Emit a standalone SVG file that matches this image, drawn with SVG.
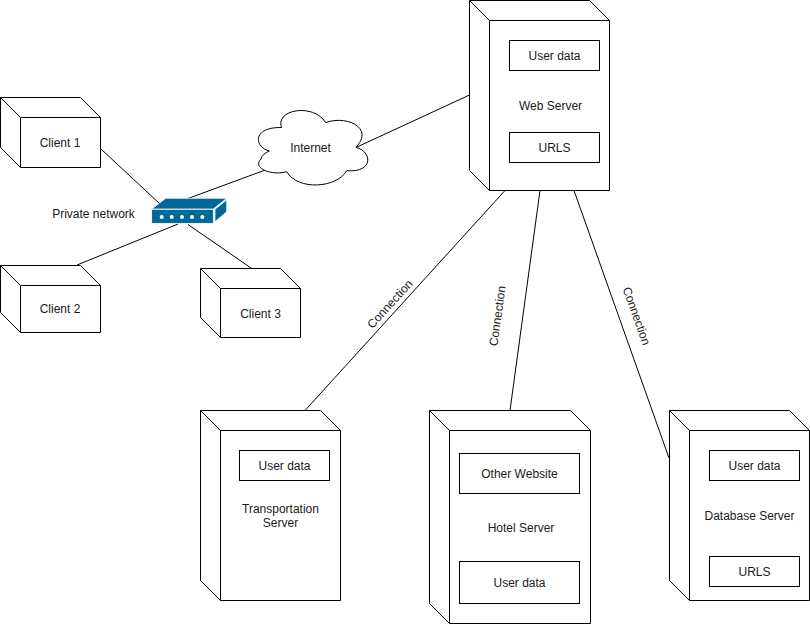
<svg xmlns="http://www.w3.org/2000/svg" width="810" height="625" viewBox="0 0 810 625">
<style>
.s{fill:#fff;stroke:#000;stroke-width:1}
.n{fill:none;stroke:#000;stroke-width:1}
text{font-family:"Liberation Sans",Arial,sans-serif;font-size:12px;fill:#1a1a1a;text-anchor:middle}
</style>
<rect width="810" height="625" fill="#fff"/>
<g id="connectors" class="n">
<path d="M101 149L160 204"/>
<path d="M188 198.500L268 169"/>
<path d="M77 265L178 224"/>
<path d="M188 224.500L251 268"/>
<path d="M357 147L469.500 95"/>
<path d="M505 190.500L305 410.500"/>
<path d="M540 190.500L510 410.500"/>
<path d="M574 190.500L669 458"/>
</g>
<g id="connector-labels">
<text transform="translate(390 304) rotate(-47.700)" y="4">Connection</text>
<text transform="translate(497.500 316) rotate(-82)" y="4">Connection</text>
<text transform="translate(636.500 316) rotate(70.500)" y="4">Connection</text>
</g>
<g id="client1"><path class="s" d="M.5 97.500H80.500L100.500 117.500V167.500H20.500L.5 147.500Z"/><path class="n" d="M.5 97.500L20.500 117.500H100.500M20.500 117.500V167.500"/><text x="60" y="147">Client 1</text></g>
<g id="client2"><path class="s" d="M.5 265.500H80.500L100.500 285.500V332.500H20.500L.5 312.500Z"/><path class="n" d="M.5 265.500L20.500 285.500H100.500M20.500 285.500V332.500"/><text x="60" y="313">Client 2</text></g>
<g id="client3"><path class="s" d="M200.500 268.500H280.500L300.500 288.500V337.500H220.500L200.500 317.500Z"/><path class="n" d="M200.500 268.500L220.500 288.500H300.500M220.500 288.500V337.500"/><text x="260.500" y="318">Client 3</text></g>
<g id="private-network-label"><text x="93.500" y="218">Private network</text></g>
<g id="router">
<path d="M151.700 209L165.700 198.300H226.700L213.300 209Z" fill="#036897" stroke="#fff" stroke-width=".7"/>
<rect x="151.700" y="209.300" width="61.600" height="14" fill="#036897" stroke="#fff" stroke-width=".7"/>
<path d="M215 209.300L226.700 200V211.700L215 221.700Z" fill="#036897" stroke="#fff" stroke-width=".7"/>
<g fill="#fff"><circle cx="161.700" cy="217" r="2"/><circle cx="171.700" cy="217" r="2"/><circle cx="182" cy="217" r="2"/><circle cx="192" cy="217" r="2"/><circle cx="202.300" cy="217" r="2"/></g>
</g>
<g id="internet"><path class="s" d="M269.300 151C254 147 252 127 281.500 127.500C275 109 314 103 325.700 122.700C345 115 375 127 356 147.300C373 152 373 173 346.700 170.700C337 188 298 191 286.700 171.700C271 176 252 168 261 159C262 155 265 153 269.300 151Z"/><text x="310.500" y="152">Internet</text></g>
<g id="web-server"><path class="s" d="M469.500 .5H589.500L609.500 20.500V190.500H489.500L469.500 170.500Z"/><path class="n" d="M469.500 .5L489.500 20.500H609.500M489.500 20.500V190.500"/><rect class="s" x="509.500" y="40.500" width="90" height="30"/><text x="554.500" y="60">User data</text><text x="550.500" y="110">Web Server</text><rect class="s" x="509.500" y="132.500" width="90" height="30"/><text x="554.500" y="152">URLS</text></g>
<g id="transportation-server"><path class="s" d="M200.500 410.500H320.500L340.500 430.500V600.500H220.500L200.500 580.500Z"/><path class="n" d="M200.500 410.500L220.500 430.500H340.500M220.500 430.500V600.500"/><rect class="s" x="239.500" y="450.500" width="90" height="30"/><text x="284.500" y="470">User data</text><text x="280.500" y="513">Transportation</text><text x="280.500" y="527">Server</text></g>
<g id="hotel-server"><path class="s" d="M429.500 410.500H570.500L590.500 430.500V623.500H449.500L429.500 603.500Z"/><path class="n" d="M429.500 410.500L449.500 430.500H590.500M449.500 430.500V623.500"/><rect class="s" x="459.500" y="453.500" width="120" height="40"/><text x="519.500" y="478">Other Website</text><text x="521" y="532">Hotel Server</text><rect class="s" x="459.500" y="561.500" width="120" height="42"/><text x="519.500" y="587">User data</text></g>
<g id="database-server"><path class="s" d="M669.500 410.500H789.500L809.500 430.500V600.500H689.500L669.500 580.500Z"/><path class="n" d="M669.500 410.500L689.500 430.500H809.500M689.500 430.500V600.500"/><rect class="s" x="709.500" y="450.500" width="90" height="30"/><text x="754.500" y="470">User data</text><text x="749.500" y="520">Database Server</text><rect class="s" x="709.500" y="556.500" width="90" height="30"/><text x="754.500" y="576">URLS</text></g>
</svg>
